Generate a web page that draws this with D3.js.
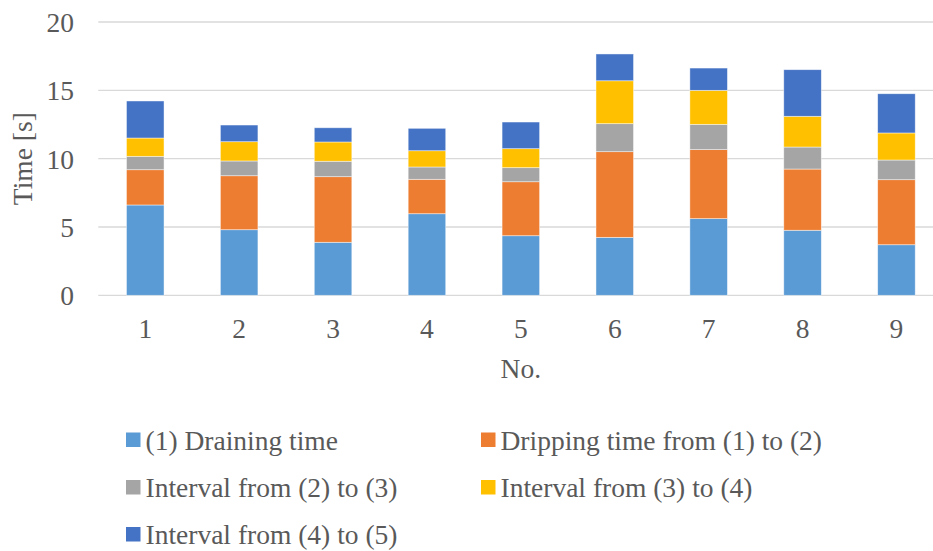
<!DOCTYPE html>
<html>
<head>
<meta charset="utf-8">
<script src="https://cdn.jsdelivr.net/npm/d3@7"></script>
<style>
  html, body { margin: 0; padding: 0; background: #fff; }
  svg { display: block; }
</style>
</head>
<body>
<svg id="chart" width="933" height="551"></svg>
<script>
// Measurement numbers (x axis) and the five stacked time components [s]
const categories = ["1", "2", "3", "4", "5", "6", "7", "8", "9"];
const drainingTime   = [6.61, 4.80, 3.88, 5.97, 4.36, 4.24, 5.61, 4.76, 3.70];
const drippingTime   = [2.58, 3.95, 4.80, 2.52, 3.95, 6.27, 5.05, 4.48, 4.76];
const interval23     = [0.98, 1.08, 1.13, 0.90, 1.03, 2.05, 1.85, 1.61, 1.44];
const interval34     = [1.34, 1.41, 1.41, 1.19, 1.39, 3.14, 2.49, 2.25, 1.98];
const interval45     = [2.71, 1.22, 1.04, 1.64, 1.95, 1.96, 1.63, 3.41, 2.87];
const seriesNames = [
  "(1) Draining time",
  "Dripping time from (1) to (2)",
  "Interval from (2) to (3)",
  "Interval from (3) to (4)",
  "Interval from (4) to (5)"
];
const seriesColors = ["#5B9BD5", "#ED7D31", "#A5A5A5", "#FFC000", "#4472C4"];
const yTicks = [0, 5, 10, 15, 20];

const seriesValues = [drainingTime, drippingTime, interval23, interval34, interval45];
const keys = seriesNames.map((_, i) => "s" + i);
const rows = categories.map((c, j) => {
  const r = { no: c };
  keys.forEach((k, i) => { r[k] = seriesValues[i][j]; });
  return r;
});

const svg = d3.select("#chart");
const plot = { left: 98.3, right: 943.4, top: 22, bottom: 295.3 };
const serif = '"Liberation Serif", "Times New Roman", serif';
const fontSize = 27.5;
const textColor = "#595959";

const x = d3.scaleBand()
  .domain(categories)
  .range([plot.left, plot.right])
  .paddingInner(0.6)
  .paddingOuter(0.3);

const y = d3.scaleLinear()
  .domain([0, 20])
  .range([plot.bottom, plot.top]);

// Horizontal gridlines
svg.append("g")
  .selectAll("line")
  .data(yTicks)
  .join("line")
  .attr("x1", plot.left)
  .attr("x2", plot.right)
  .attr("y1", d => y(d))
  .attr("y2", d => y(d))
  .attr("stroke", "#D9D9D9")
  .attr("stroke-width", 1.3);

// Y axis tick labels
const yg = svg.append("g")
  .attr("transform", "translate(74,0)")
  .call(d3.axisLeft(y).tickValues(yTicks).tickSize(0).tickPadding(0));
yg.select(".domain").remove();
yg.selectAll("text")
  .style("font-family", serif)
  .style("font-size", fontSize + "px")
  .attr("dy", "0.34em")
  .attr("fill", textColor);

// Stacked bars
const layers = d3.stack().keys(keys)(rows);

svg.append("g")
  .selectAll("g")
  .data(layers)
  .join("g")
  .attr("fill", (d, i) => seriesColors[i])
  .selectAll("rect")
  .data(d => d)
  .join("rect")
  .attr("x", d => x(d.data.no))
  .attr("width", x.bandwidth())
  .attr("y", d => y(d[1]))
  .attr("height", d => y(d[0]) - y(d[1]))
  .attr("stroke", "#ffffff")
  .attr("stroke-opacity", 0.6)
  .attr("stroke-width", 0.75);

// X axis tick labels
const xg = svg.append("g")
  .attr("transform", "translate(0,338)")
  .call(d3.axisBottom(x).tickSize(0).tickPadding(0));
xg.select(".domain").remove();
xg.selectAll("text")
  .style("font-family", serif)
  .style("font-size", fontSize + "px")
  .attr("dy", 0)
  .attr("fill", textColor);

// Axis titles
svg.append("text")
  .attr("x", (plot.left + plot.right) / 2)
  .attr("y", 378)
  .attr("text-anchor", "middle")
  .style("font-family", serif)
  .style("font-size", fontSize + "px")
  .attr("fill", textColor)
  .text("No.");

svg.append("text")
  .attr("transform", `translate(32,${(plot.top + plot.bottom) / 2}) rotate(-90)`)
  .attr("text-anchor", "middle")
  .style("font-family", serif)
  .style("font-size", fontSize + "px")
  .attr("fill", textColor)
  .text("Time [s]");

// Legend: two columns, three rows
const legendCols = [126, 481];
const legendRows = [440, 487.5, 534.5];
const legend = svg.append("g")
  .selectAll("g")
  .data(seriesNames)
  .join("g")
  .attr("transform", (d, i) => `translate(${legendCols[i % 2]},${legendRows[Math.floor(i / 2)]})`);

legend.append("rect")
  .attr("x", 0)
  .attr("y", -7.5)
  .attr("width", 14.5)
  .attr("height", 14.5)
  .attr("fill", (d, i) => seriesColors[i]);

legend.append("text")
  .attr("x", 19.5)
  .attr("y", 9.5)
  .style("font-family", serif)
  .style("font-size", fontSize + "px")
  .attr("fill", textColor)
  .text(d => d);
</script>
</body>
</html>
